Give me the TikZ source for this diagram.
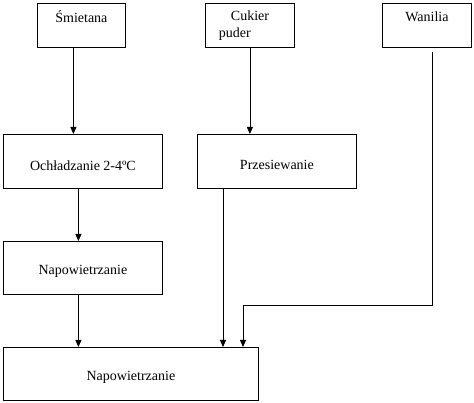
\documentclass[tikz,border=0pt]{standalone}
\usepackage{fontspec}
\setmainfont{Liberation Serif}
\usetikzlibrary{arrows.meta}

\begin{document}
\begin{tikzpicture}[
    x=1pt, y=-1pt,
    every node/.style={font=\fontsize{14}{17}\selectfont},
    box/.style={rectangle, draw, line width=0.8pt, anchor=north west, inner sep=0pt, align=center, minimum width=#1},
    box/.default=88pt,
    arr/.style={-{Triangle[length=7pt, width=6pt]}, line width=0.8pt},
]
    \useasboundingbox (0,0) rectangle (474,403);

    % ingredients
    \node[box, minimum height=44pt] (smiet) at (37,3) {Śmietana\\\mbox{}};
    \node[box=89pt, minimum height=44pt, align=left] (cukier) at (205,3) {\hspace*{12pt}Cukier\\puder\hspace*{30pt}};
    \node[box=89pt, minimum height=44pt] (wanil) at (382,3) {Wanilia\\\mbox{}};

    % process steps
    \node[box=159pt, minimum height=54pt] (chlod) at (3,134) {\raisebox{-4pt}[\height][\depth]{Ochładzanie 2-4ºC}};
    \node[box=159pt, minimum height=54pt] (przes) at (197,134) {\raisebox{-4pt}[\height][\depth]{Przesiewanie}};
    \node[box=159pt, minimum height=53pt] (napow) at (3,241) {\raisebox{-3pt}[\height][\depth]{Napowietrzanie}};
    \node[box=255pt, minimum height=53pt] (koniec) at (3,347) {\raisebox{-3pt}[\height][\depth]{Napowietrzanie}};

    \coordinate (zakret) at (243,305);

    \draw[arr] ([xshift=-8pt]smiet.south) -- ([xshift=-8pt]smiet.south |- chlod.north);
    \draw[arr] (cukier.south) -- (cukier.south |- przes.north);
    \draw[arr] ([xshift=-4.5pt]chlod.south) -- ([xshift=-4.5pt]chlod.south |- napow.north);
    \draw[arr] ([xshift=-4.5pt]napow.south) -- ([xshift=-4.5pt]napow.south |- koniec.north);
    \draw[arr] ([xshift=26pt]przes.south west) -- ([xshift=26pt]przes.south west |- koniec.north);
    \draw[arr] ([xshift=5pt, yshift=-4pt]wanil.south) |- (zakret) -- (zakret |- koniec.north);
\end{tikzpicture}
\end{document}
